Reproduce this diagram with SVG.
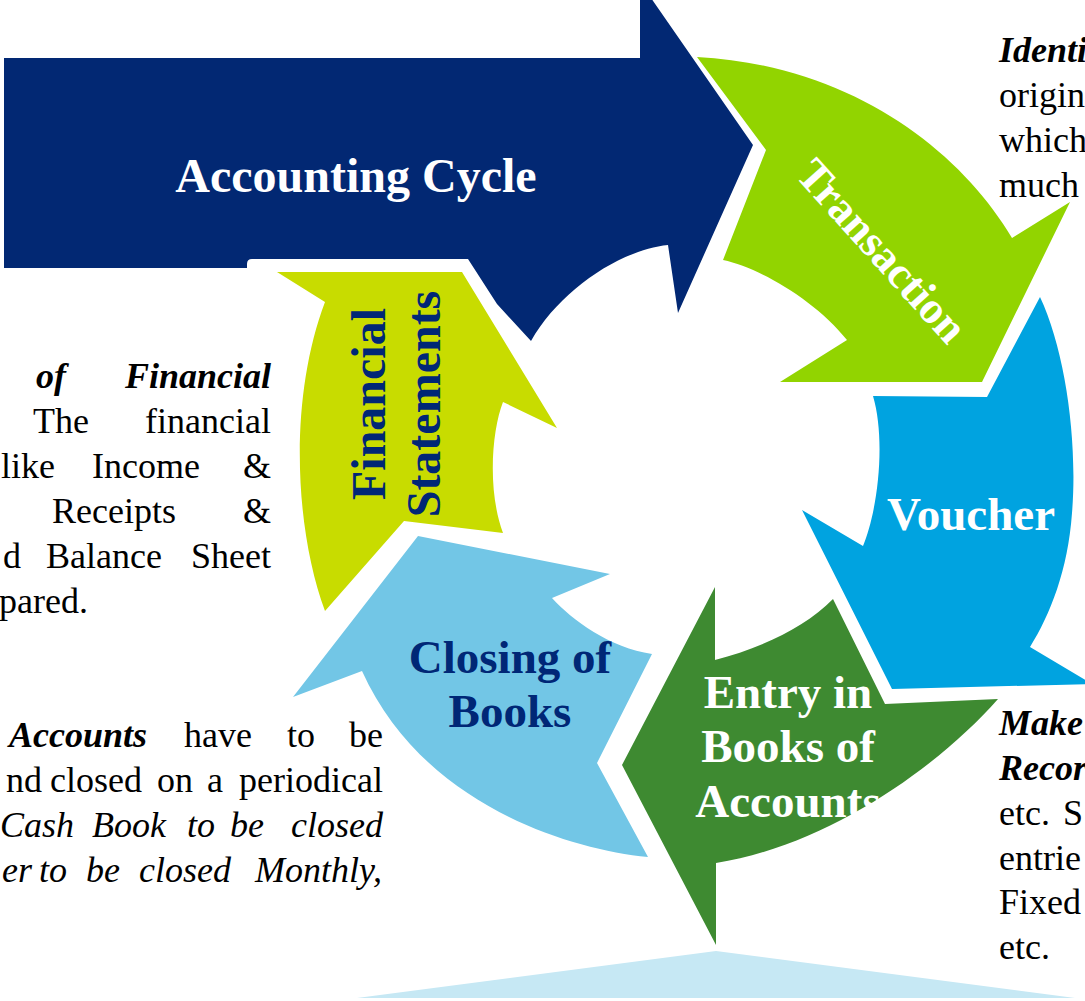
<svg xmlns="http://www.w3.org/2000/svg" width="1085" height="1001" viewBox="0 0 1085 1001">
<style>
.t{font-family:"Liberation Serif","Times New Roman",serif;font-size:36px;fill:#000}
.bi{font-weight:bold;font-style:italic}
.it{font-style:italic}
.e{text-anchor:end}
.h{font-family:"Liberation Serif","Times New Roman",serif;font-weight:bold;text-anchor:middle}
.hw{fill:#fff}
.hn{fill:#002776}
</style>
<rect width="1085" height="1001" fill="#fff"/>
<g id="node-accounting-cycle">
<path d="M4,58 L640,58 L640,-2 L651,-2 L753,145 L678,313 L668,245 C620,250 560,290 531,341 L497,304 L468,259 L252,259 Q247,259 247,264 L247,268 L4,268 Z" fill="#022873"/>
<text class="h hw" x="356" y="192" font-size="48">Accounting Cycle</text>
</g>
<g id="node-transaction">
<path d="M697,57 L766,150 L723,260 C760,268 815,300 847,340 L780,382 L982,382 L1070,202 L1012,238 C960,150 850,65 697,57 Z" fill="#92D400"/>
<text class="h hw" transform="translate(871,261) rotate(48)" font-size="45">Transaction</text>
</g>
<g id="node-voucher">
<path d="M873,396 L987,397 L1040,297 C1065,350 1078,440 1072,513 C1068,570 1050,615 1030,647 L1092,684 L892,689 L802,510 L863,546 C878,510 886,440 873,396 Z" fill="#00A3E0"/>
<text class="h hw" x="971" y="530" font-size="47">Voucher</text>
</g>
<g id="node-entry">
<path d="M715,587 L715,660 C760,648 805,628 833,599 L885,704 L998,699 C940,765 830,845 716,863 L716,945 L622,765 Z" fill="#3E8A31"/>
<text class="h hw" font-size="47"><tspan x="788" y="708">Entry in</tspan><tspan x="788" y="762">Books of</tspan><tspan x="788" y="817">Accounts</tspan></text>
</g>
<g id="node-closing">
<path d="M418,536 L610,574 L552,598 C572,620 610,648 652,654 L597,763 L648,857 C560,848 420,800 362,671 L293,697 Z" fill="#72C6E6"/>
<text class="h hn" font-size="47"><tspan x="510" y="673">Closing of</tspan><tspan x="510" y="727">Books</tspan></text>
</g>
<g id="node-financial">
<path d="M277,272 L462,272 L557,428 L503,402 C492,430 487,490 503,533 L404,521 L325,611 C295,530 288,400 325,302 Z" fill="#C8DC00"/>
<text class="h hn" transform="translate(385,404) rotate(-90)" font-size="48">Financial</text>
<text class="h hn" transform="translate(440,404) rotate(-90)" font-size="48">Statements</text>
</g>
<g id="node-bottom">
<path d="M357,998 L716,951 L1075,998 Z" fill="#C6E8F4"/>
</g>
<g id="connectors"></g>
<g id="note-transaction" class="t">
<text x="999" y="62" class="bi">Identi</text>
<text x="999" y="107">origin</text>
<text x="999" y="152">which</text>
<text x="999" y="197">much</text>
</g>
<g id="note-financial" class="t">
<text y="388" class="bi" x="36">of</text>
<text y="388" class="bi e" x="271">Financial</text>
<text y="433" x="33">The</text>
<text y="433" x="271" class="e">financial</text>
<text y="478" x="1">like</text>
<text y="478" x="92">Income</text>
<text y="478" x="271" class="e">&amp;</text>
<text y="523" x="52">Receipts</text>
<text y="523" x="271" class="e">&amp;</text>
<text y="568" x="3">d</text>
<text y="568" x="46">Balance</text>
<text y="568" x="271" class="e">Sheet</text>
<text y="613" x="-1">pared.</text>
</g>
<g id="note-closing" class="t">
<text y="747" x="9" class="bi">Accounts</text>
<text y="747" x="184">have</text>
<text y="747" x="287">to</text>
<text y="747" x="383" class="e">be</text>
<text y="792" x="6">nd</text>
<text y="792" x="50">closed</text>
<text y="792" x="157">on</text>
<text y="792" x="207">a</text>
<text y="792" x="383" class="e">periodical</text>
<text y="837" x="0" class="it">Cash</text>
<text y="837" x="92" class="it">Book</text>
<text y="837" x="187" class="it">to</text>
<text y="837" x="230" class="it">be</text>
<text y="837" x="383" class="it e">closed</text>
<text y="882" x="2" class="it">er</text>
<text y="882" x="39" class="it">to</text>
<text y="882" x="86" class="it">be</text>
<text y="882" x="139" class="it">closed</text>
<text y="882" x="382" class="it e">Monthly,</text>
</g>
<g id="note-entry" class="t">
<text x="999" y="735" class="bi">Make</text>
<text x="999" y="780" class="bi">Recor</text>
<text x="999" y="825">etc.</text>
<text x="1063" y="825">S</text>
<text x="999" y="870">entrie</text>
<text x="999" y="914">Fixed</text>
<text x="999" y="959">etc.</text>
</g>
</svg>
